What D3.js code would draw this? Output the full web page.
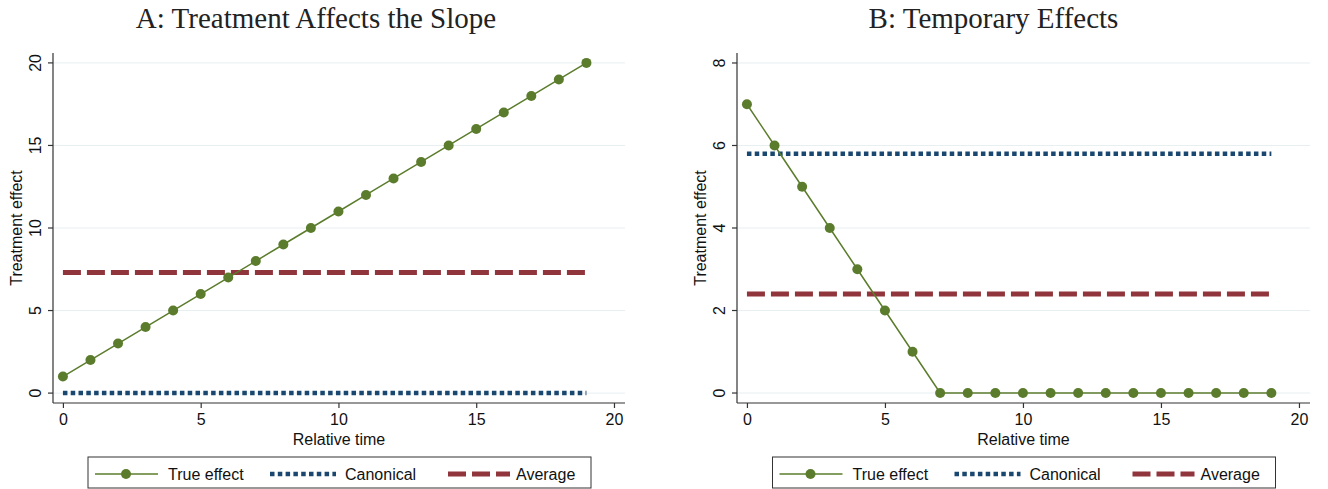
<!DOCTYPE html>
<meta charset="utf-8">
<style>
body{
  margin: 0;
  background: white;
}
svg{
  display: block;
}
.tick text{
  font-family: "Liberation Sans", Arial, sans-serif;
  font-size: 16px;
  fill: #111;
}
.axis-title, .legend text{
  font-family: "Liberation Sans", Arial, sans-serif;
  font-size: 16px;
  fill: #111;
}
.panel-title{
  font-family: "Liberation Serif", "DejaVu Serif", serif;
  font-size: 29px;
  fill: #222;
}
</style>
<body>
<div id="chart"></div>
<script src="https://cdn.jsdelivr.net/npm/d3@7"></script>
<script>

// relative time periods
var times = [0, 1, 2, 3, 4, 5, 6, 7, 8, 9, 10, 11, 12, 13, 14, 15, 16, 17, 18, 19]

// panel A: effect grows with time
var trueA = [1, 2, 3, 4, 5, 6, 7, 8, 9, 10, 11, 12, 13, 14, 15, 16, 17, 18, 19, 20]
var canonicalA = 0
var averageA = 7.3
var yTicksA = [0, 5, 10, 15, 20]

// panel B: temporary effect
var trueB = [7, 6, 5, 4, 3, 2, 1, 0, 0, 0, 0, 0, 0, 0, 0, 0, 0, 0, 0, 0]
var canonicalB = 5.8
var averageB = 2.4
var yTicksB = [0, 2, 4, 6, 8]

var xTicks = [0, 5, 10, 15, 20]
var legendLabels = ['True effect', 'Canonical', 'Average']

var green = '#5b7c2c', navy = '#1a476f', maroon = '#90353b', grid = '#e7eff1'

var svg = d3.select('#chart').append('svg')
    .attr('width', 1328)
    .attr('height', 489)

function panel(opt){
  var g = svg.append('g')
  var x = d3.scaleLinear().domain([-0.36, 20.4]).range([opt.left, opt.right])
  var y = d3.scaleLinear().domain(opt.yDomain).range([403, 53])
  var cx = (opt.left + opt.right) / 2

  g.append('text').attr('class', 'panel-title')
      .attr('x', cx + opt.titleShift).attr('y', 28)
      .attr('text-anchor', 'middle')
      .text(opt.title)

  // gridlines
  g.selectAll('.grid').data(opt.yTicks).enter().append('line')
      .attr('x1', opt.left).attr('x2', opt.right)
      .attr('y1', d => y(d)).attr('y2', d => y(d))
      .style('stroke', grid).style('stroke-width', 1)

  // axes
  var yAxis = g.append('g')
      .attr('transform', 'translate(' + opt.left + ',0)')
      .call(d3.axisLeft(y).tickValues(opt.yTicks).tickSize(5).tickPadding(4))
  yAxis.selectAll('.tick text')
      .attr('transform', function(d){ return 'rotate(-90,' + (-18) + ',' + y(d) + ')' })
      .attr('x', -18).attr('y', d => y(d)).attr('dy', '0.35em')
      .style('text-anchor', 'middle')
  yAxis.selectAll('.tick').attr('transform', null)
  yAxis.selectAll('.tick line').attr('y1', d => y(d)).attr('y2', d => y(d))
  yAxis.select('.domain').attr('d', 'M0,' + 53 + 'V403')

  var xAxis = g.append('g')
      .attr('transform', 'translate(0,403)')
      .call(d3.axisBottom(x).tickValues(xTicks).tickSize(5).tickPadding(6))
  xAxis.select('.domain').attr('d', 'M' + opt.left + ',0H' + opt.right)

  g.selectAll('.domain, .tick line').style('stroke', '#333').style('stroke-width', 1.2)

  g.append('text').attr('class', 'axis-title')
      .attr('x', cx).attr('y', 445)
      .attr('text-anchor', 'middle')
      .text('Relative time')
  g.append('text').attr('class', 'axis-title')
      .attr('transform', 'translate(' + (opt.left - 37) + ',' + 228 + ') rotate(-90)')
      .attr('text-anchor', 'middle')
      .attr('dy', '0.35em')
      .text('Treatment effect')

  var first = times[0], last = times[times.length - 1]

  // canonical (dotted)
  g.append('line')
      .attr('x1', x(first)).attr('x2', x(last))
      .attr('y1', y(opt.canonical)).attr('y2', y(opt.canonical))
      .style('stroke', navy).style('stroke-width', 4.5)
      .style('stroke-dasharray', '4.5,3.3')

  // average (dashed)
  g.append('line')
      .attr('x1', x(first)).attr('x2', x(last))
      .attr('y1', y(opt.average)).attr('y2', y(opt.average))
      .style('stroke', maroon).style('stroke-width', 5)
      .style('stroke-dasharray', '18,6')

  // true effect
  var line = d3.line().x((d, i) => x(times[i])).y(d => y(d))
  g.append('path').datum(opt.trueVals)
      .attr('d', line)
      .style('fill', 'none').style('stroke', green).style('stroke-width', 1.5)
  g.selectAll('.pt').data(opt.trueVals).enter().append('circle')
      .attr('cx', (d, i) => x(times[i])).attr('cy', d => y(d))
      .attr('r', 5)
      .style('fill', green)

  // legend
  var lx = cx - 251, ly = 457
  var lg = g.append('g').attr('class', 'legend')
  lg.append('rect')
      .attr('x', lx).attr('y', ly).attr('width', 503).attr('height', 31)
      .style('fill', 'white').style('stroke', '#333').style('stroke-width', 1)
  var my = ly + 17
  var keys = [lx + 7, lx + 182, lx + 360]
  lg.append('line').attr('x1', keys[0]).attr('x2', keys[0] + 63)
      .attr('y1', my).attr('y2', my)
      .style('stroke', green).style('stroke-width', 1.5)
  lg.append('circle').attr('cx', keys[0] + 31).attr('cy', my).attr('r', 5).style('fill', green)
  lg.append('line').attr('x1', keys[1]).attr('x2', keys[1] + 66)
      .attr('y1', my).attr('y2', my)
      .style('stroke', navy).style('stroke-width', 4.5).style('stroke-dasharray', '4.5,3.3')
  lg.append('line').attr('x1', keys[2]).attr('x2', keys[2] + 62)
      .attr('y1', my).attr('y2', my)
      .style('stroke', maroon).style('stroke-width', 5).style('stroke-dasharray', '18,6')
  var textX = [lx + 80, lx + 257, lx + 428]
  lg.selectAll('.lt').data(legendLabels).enter().append('text')
      .attr('x', (d, i) => textX[i]).attr('y', my).attr('dy', '0.35em')
      .text(d => d)
}

panel({title: 'A: Treatment Affects the Slope', left: 53, right: 625, titleShift: -23,
       yDomain: [-0.6, 20.6], yTicks: yTicksA,
       trueVals: trueA, canonical: canonicalA, average: averageA})

panel({title: 'B: Temporary Effects', left: 737, right: 1310, titleShift: -30,
       yDomain: [-0.242, 8.242], yTicks: yTicksB,
       trueVals: trueB, canonical: canonicalB, average: averageB})

</script>
